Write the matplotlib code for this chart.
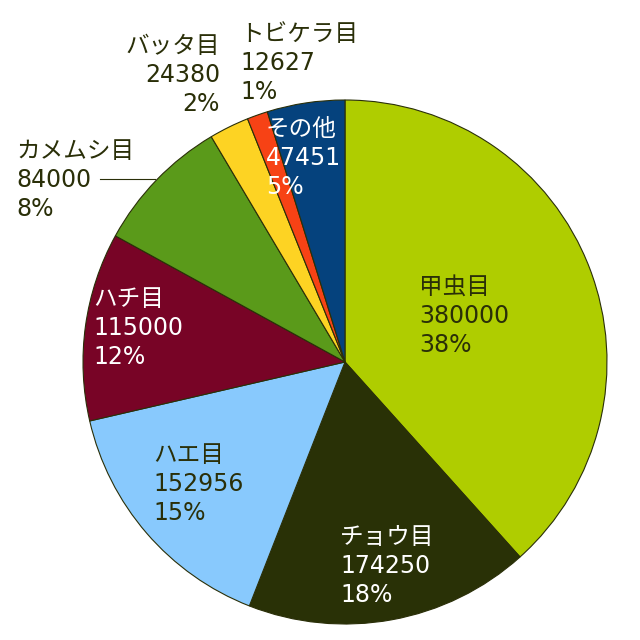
import matplotlib
matplotlib.use("Agg")
import matplotlib.pyplot as plt

plt.rcParams["font.family"] = ["DejaVu Sans", "Noto Sans CJK JP"]

# data
orders = ["甲虫目", "チョウ目", "ハエ目", "ハチ目", "カメムシ目", "バッタ目", "トビケラ目", "その他"]
counts = [380000, 174250, 152956, 115000, 84000, 24380, 12627, 47451]
colors = ["#afcd00", "#293106", "#88c9fd", "#780426", "#5a9a1a", "#fdd323", "#f74215", "#05427d"]

DARK = "#2a2f08"
text_colors = [DARK, "white", DARK, "white", DARK, DARK, DARK, "white"]

# label layout in pixels (x, top y, horizontal alignment)
label_px = [
    (419, 275, "left"),
    (340, 525, "left"),
    (153, 443, "left"),
    (93, 287, "left"),
    (16, 139, "left"),
    (220, 34, "right"),
    (240, 22, "left"),
    (266, 117, "left"),
]

W = H = 640
CX, CY, R = 345, 362, 262

fig = plt.figure(figsize=(6.4, 6.4), dpi=100)
ax = fig.add_axes([(CX - R) / W, (H - CY - R) / H, 2 * R / W, 2 * R / H])

ax.pie(
    counts,
    colors=colors,
    startangle=90,
    counterclock=False,
    radius=1,
    wedgeprops=dict(edgecolor="#2a2f08", linewidth=0.8),
)
ax.set_xlim(-1, 1)
ax.set_ylim(-1, 1)
ax.set_aspect("equal")
ax.axis("off")


def to_data(px, py):
    return (px - CX) / R, (CY - py) / R


total = sum(counts)
for name, n, tc, (px, py, ha) in zip(orders, counts, text_colors, label_px):
    pct = round(n / total * 100)
    x, y = to_data(px, py)
    ax.text(x, y, f"{name}\n{n}\n{pct}%", color=tc, fontsize=17,
            ha=ha, va="top", linespacing=1.27, multialignment=ha,
            clip_on=False)

# leader line for カメムシ目
x0, y0 = to_data(100, 179)
x1, y1 = to_data(155, 179)
ax.plot([x0, x1], [y0, y1], color=DARK, linewidth=0.8, clip_on=False)

fig.savefig("out.png", dpi=100)
